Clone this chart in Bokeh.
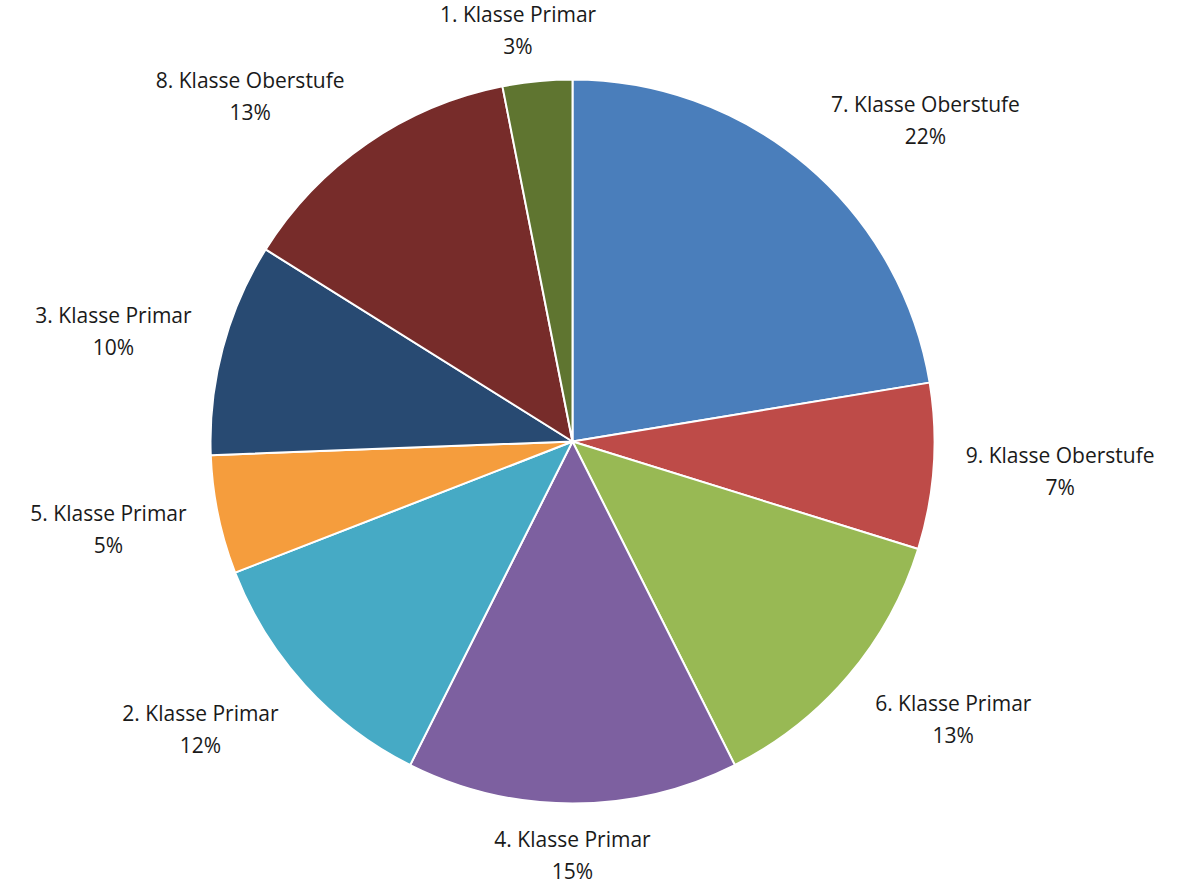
import numpy as np
from bokeh.plotting import figure
from bokeh.models import Range1d, ColumnDataSource
from bokeh.core.properties import value
from bokeh.embed import file_html
from bokeh.resources import INLINE

# Data (clockwise from 12 o'clock)
categories = ["7. Klasse Oberstufe", "9. Klasse Oberstufe", "6. Klasse Primar",
              "4. Klasse Primar", "2. Klasse Primar", "5. Klasse Primar",
              "3. Klasse Primar", "8. Klasse Oberstufe", "1. Klasse Primar"]
shares = [22.4, 7.4, 12.8, 14.8, 11.7, 5.3, 9.5, 13.0, 3.1]
colors = ["#4A7EBB", "#BE4B48", "#98B954", "#7D60A0", "#46AAC5",
          "#F59D3D", "#284A72", "#772C2A", "#5F7530"]

W, H = 1186, 883
cx, cy, r = 572, 883 - 441, 362

vals = np.array(shares, dtype=float)
frac = vals / vals.sum()
cum = np.concatenate([[0], np.cumsum(frac)])
start = np.pi / 2 - cum[:-1] * 2 * np.pi
end = np.pi / 2 - cum[1:] * 2 * np.pi
pct = [f"{round(f * 100):.0f}%" for f in frac]

src = ColumnDataSource(dict(start=start, end=end, color=colors))

p = figure(width=W, height=H, output_backend="svg", toolbar_location=None,
           x_range=Range1d(0, W), y_range=Range1d(883 - H, 883),
           min_border=0, outline_line_color=None)
p.axis.visible = False
p.grid.visible = False
p.background_fill_color = "white"

p.wedge(x=cx, y=cy, radius=r, start_angle="start", end_angle="end",
        direction="clock", fill_color="color", line_color="white",
        line_width=2, source=src)

# label positions from mid angles
mid = (cum[:-1] + cum[1:]) / 2 * 2 * np.pi  # clockwise from top
s, c = np.sin(mid), np.cos(mid)
gap = 22
fs = 21
hw = np.array([len(t) * 5.5 for t in categories])
hh = 29
lx = cx + (r + gap) * s + hw * np.clip(s * 2.0, -1, 1)
ly = cy + (r + gap) * c + hh * np.clip(c * 1.6, -1, 1)

lsrc = ColumnDataSource(dict(x=lx, y1=ly + 16, y2=ly - 16, name=categories, pct=pct))
for col, yk in (("name", "y1"), ("pct", "y2")):
    p.text(x="x", y=yk, text=col, source=lsrc, text_align="center",
           text_baseline="middle", text_font=value("Open Sans"),
           text_font_size=f"{fs}px", text_color="#1a1a1a")

open("out.html", "w").write(file_html(p, INLINE))
